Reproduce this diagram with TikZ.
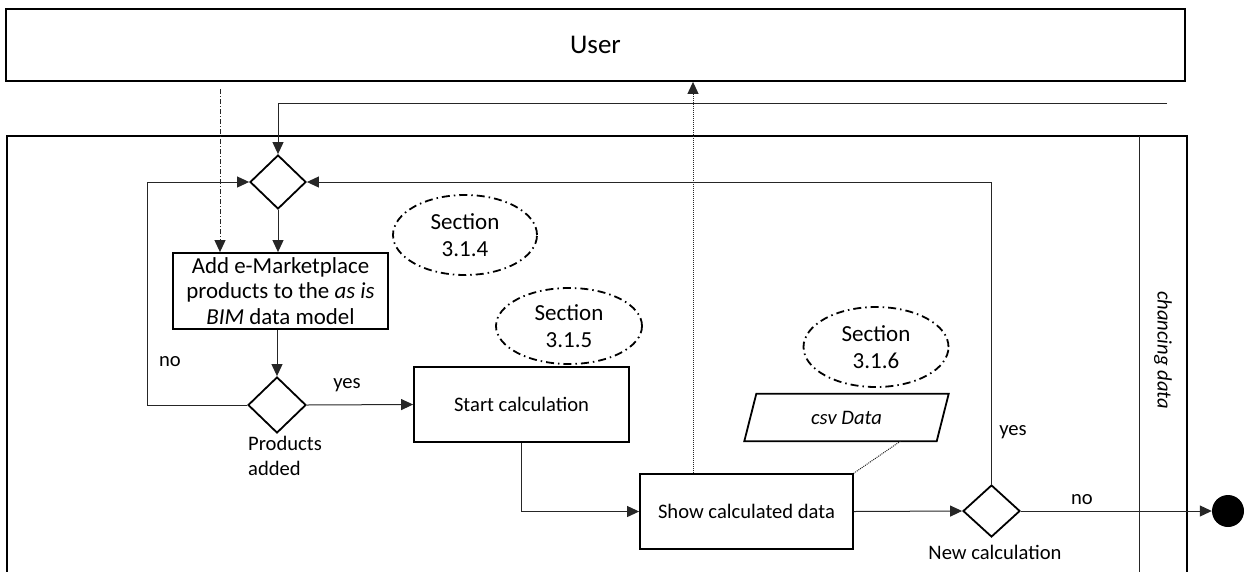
\documentclass[tikz,border=0pt]{standalone}
\usepackage{fontspec}
\setmainfont{Carlito}
\usetikzlibrary{arrows.meta,shapes.geometric,positioning}
\begin{document}
\begin{tikzpicture}[x=1pt,y=-1pt,
  every node/.style={font=\fontsize{20.6}{25}\selectfont},
  box/.style={draw=black,line width=1.8pt,rectangle,inner sep=0pt,align=center},
  dec/.style={draw=black,line width=1.8pt,diamond,inner sep=0pt},
  sect/.style={draw=black,line width=1.8pt,ellipse,inner sep=0pt,align=center,
    font=\fontsize{23}{27}\selectfont,
    dash pattern=on 8pt off 4pt on 1.5pt off 4pt},
  conn/.style={draw=black!85,line width=1pt},
  arr/.style={conn,-{Triangle[length=12pt,width=11pt]}},
  lbl/.style={inner sep=0pt}
]
\useasboundingbox (0,0) rectangle (1245,571);
% user lane
\node[box,minimum width=1179pt,minimum height=72pt,font=\fontsize{27}{30}\selectfont] (user) at (595.5,45) {User};
% main lane frame
\draw[line width=1.8pt] (7,575) -- (7,136) -- (1187,136) -- (1187,575);
\draw[conn] (1139,136) -- (1139,575);
\node[lbl,rotate=-90] (chd) at (1163,350) {\itshape chancing data};
% nodes
\node[dec,minimum width=56pt,minimum height=54pt] (d1) at (278,182) {};
\node[box,minimum width=215pt,minimum height=76pt,font=\fontsize{22.9}{25.5}\selectfont] (add) at (280.5,291) {Add e-Marketplace\\products to the \textit{as is}\\\textit{BIM} data model};
\node[dec,minimum width=58pt,minimum height=56pt] (d2) at (277,405) {};
\node[box,minimum width=215pt,minimum height=75pt] (start) at (521.5,404.5) {Start calculation};
\node[box,minimum width=213pt,minimum height=75pt] (show) at (746.5,511.5) {Show calculated data};
\node[dec,minimum width=57pt,minimum height=52pt] (d3) at (991.5,511) {};
\node[circle,fill=black,minimum size=32pt,inner sep=0pt] (end) at (1228,511) {};
\node[rectangle,minimum width=192pt,minimum height=47pt,inner sep=0pt] (csv) at (846.5,417.5) {\itshape csv Data};
\draw[line width=1.8pt] ([xshift=6pt]csv.north west) -- ([xshift=6pt]csv.north east)
  -- ([xshift=-6pt]csv.south east) -- ([xshift=-6pt]csv.south west) -- cycle;
\node[sect,minimum width=144pt,minimum height=80pt] (s4) at (465,235) {Section\\3.1.4};
\node[sect,minimum width=146pt,minimum height=76pt] (s5) at (569,326) {Section\\3.1.5};
\node[sect,minimum width=145pt,minimum height=80pt] (s6) at (876,347) {Section\\3.1.6};
% labels
\node[lbl] (no1) at (170,362) {no};
\node[lbl] (yes1) at (347,385) {yes};
\node[lbl,anchor=north west,align=left] (pa) at (248,436) {Products\\added};
\node[lbl] (yes2) at (1013,432) {yes};
\node[lbl] (no2) at (1082,500) {no};
\node[lbl] (nc) at (995,552) {New calculation};
% connectors
\coordinate (topR) at (1167,103);
\coordinate (dd) at (220,89);
\draw[arr] (topR) -| (d1.north);
\draw[arr,dash pattern=on 5pt off 2pt on 1pt off 2pt] (dd) -- (dd |- add.north);
\draw[arr] (d1.south) -- (d1.south |- add.north);
\draw[arr] (add.south -| d2.north) -- (d2.north);
\draw[arr] (d2.west) -- ++(-100,0) |- (d1.west);
\draw[arr] (d2.east) -- (start.west);
\draw[arr] (start.south) |- (show.west);
\draw[arr,densely dotted] ([xshift=-53.5pt]show.north) -- ([xshift=-53.5pt]show.north |- user.south);
\draw[conn,densely dotted] ([xshift=54pt]csv.south) -- (show.north east);
\draw[arr] (show.east) -- (d3.west);
\draw[arr] (d3.north) |- (d1.east);
\draw[arr] (d3.east) -- (end.west);
\end{tikzpicture}
\end{document}
